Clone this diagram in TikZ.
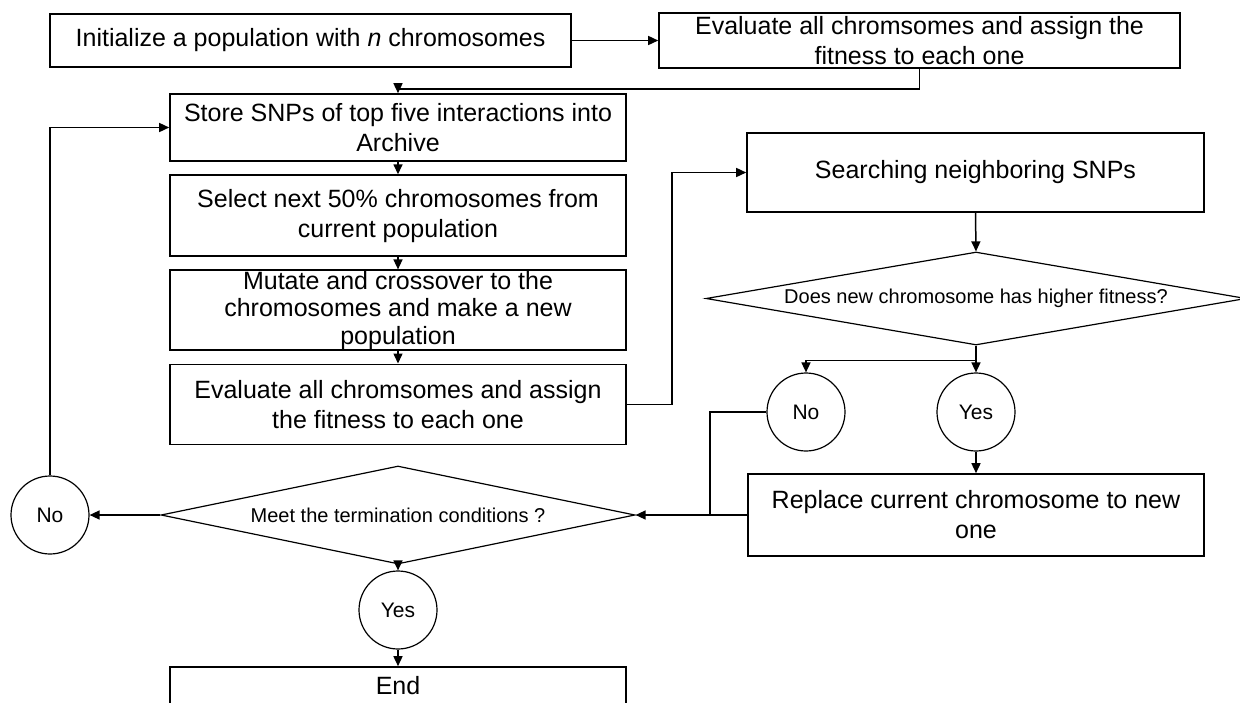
\documentclass[tikz,border=0pt]{standalone}
\usepackage{fontspec}
\setmainfont{Liberation Sans}
\usetikzlibrary{arrows.meta,positioning,shapes.geometric}

\begin{document}
\begin{tikzpicture}[
		x=1pt, y=-1pt,
		node distance=12.5pt,
		block/.style={
			rectangle,
			draw,
			line width=1.6pt,
			inner sep=0pt,
			align=center,
			font=\fontsize{25}{30}\selectfont,
			minimum width=456pt
		},
		decision/.style={
			diamond,
			draw,
			line width=1.2pt,
			inner sep=0pt,
			font=\fontsize{20}{24}\selectfont
		},
		answer/.style={
			circle,
			draw,
			line width=1.2pt,
			inner sep=0pt,
			minimum size=78pt,
			font=\fontsize{21}{24}\selectfont
		},
		arrow/.style={-{Triangle[length=10pt,width=9pt]}, line width=1.5pt}
		]
		\useasboundingbox (0,0) rectangle (1240,702);
		\clip (0,0) rectangle (1240,702);

		\node[block, minimum width=521pt, minimum height=53pt] (init) at (310.5,40.5) {Initialize a population with \textit{n} chromosomes};
		\node[block, minimum width=521pt, minimum height=55pt] (evaltop) at (919.5,40.5) {Evaluate all chromsomes and assign the\\fitness to each one};
		\node[block, minimum height=67pt] (store) at (398,127.5) {Store SNPs of top five interactions into\\Archive};
		\node[block, below=of store, minimum height=81pt] (select) {Select next 50\% chromosomes from\\current population};
		\node[block, below=of select, minimum height=80pt, font=\fontsize{25}{27.5}\selectfont] (mutate) {Mutate and crossover to the\\chromosomes and make a new\\population};
		\node[block, below=of mutate, minimum height=80pt] (evalpop) {Evaluate all chromsomes and assign\\the fitness to each one};

		\node[block, minimum width=457pt, minimum height=79pt] (search) at (975.5,172.5) {Searching neighboring SNPs};
		\node[decision, minimum width=540pt, minimum height=93pt, shape aspect=5.8] (fitq) at (976,298.5) {Does new chromosome has higher fitness?};
		\node[answer] (nolocal) at (806,412) {No};
		\node[answer] (yeslocal) at (976,412) {Yes};
		\node[block, minimum height=82pt] (replace) at (976,515) {Replace current chromosome to new\\one};

		\node[decision, minimum width=474pt, minimum height=98pt, shape aspect=4.8] (termq) at (398,515) {Meet the termination conditions ?};
		\node[answer] (noglobal) at (50,515) {No};
		\node[answer] (yesglobal) at (398,610) {Yes};
		\node[block, minimum height=38pt] (finish) at (398,686) {End};

		\draw[arrow] (init) -- (evaltop);
		\draw[arrow] (evaltop.south) -- ++(0,20) -| (store.north);
		\draw[arrow] (store) -- (select);
		\draw[arrow] (select) -- (mutate);
		\draw[arrow] (mutate) -- (evalpop);
		\draw[arrow] (evalpop.east) -- ++(45,0) |- (search.west);
		\draw[arrow] (search.south) -- (fitq.north);
		\draw[arrow] (fitq.south) -- (yeslocal.north);
		\draw[arrow] (fitq.south) -- ++(0,15) -| (nolocal.north);
		\draw[arrow] (yeslocal) -- (replace);
		\draw[arrow] (replace.west) -- (termq.east);
		\draw[line width=1.5pt] (nolocal.west) -| ([xshift=-37pt]replace.west);
		\draw[arrow] (termq.west) -- (noglobal.east);
		\draw[arrow] (noglobal.north) |- (store.west);
		\draw[arrow] (termq.south) -- (yesglobal.north);
		\draw[arrow] (yesglobal) -- (finish);
	\end{tikzpicture}
\end{document}
